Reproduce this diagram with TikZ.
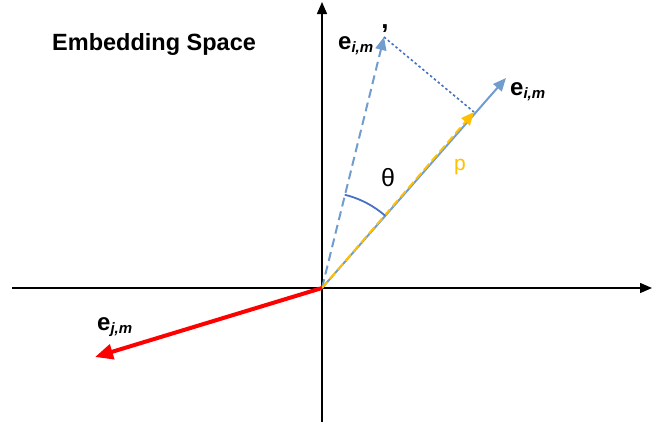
\documentclass[tikz,border=0pt]{standalone}
\usepackage{fontspec}
\setmainfont{Liberation Sans}
\usetikzlibrary{arrows.meta}
\definecolor{lblue}{RGB}{112,156,206}
\definecolor{dblue}{RGB}{68,114,196}
\definecolor{gold}{RGB}{255,192,0}
\definecolor{vred}{RGB}{255,0,0}
\tikzset{
  axis/.style={line width=1.5pt,-{Triangle[length=12pt,width=10pt]}},
  vec/.style={line width=2pt,lblue,-{Triangle[length=13pt,width=11pt]}},
  lbl/.style={font=\fontsize{24}{26}\selectfont\bfseries,inner sep=0pt}
}
\begin{document}
\begin{tikzpicture}[x=1pt,y=-1pt]
\useasboundingbox (0,0) rectangle (665,429);
\coordinate (O) at (322,288);
\coordinate (xl) at (12,288);
\coordinate (xr) at (652,288);
\coordinate (yb) at (322,422);
\coordinate (yt) at (322,2);
\coordinate (E) at (506,78);
\coordinate (Ep) at (384,37);
\coordinate (P) at (474,112);
\coordinate (R) at (95,357);
\node[font=\fontsize{23.5}{26}\selectfont\bfseries,anchor=west,inner sep=0pt] (title) at (52,44) {Embedding Space};
\draw[axis] (xl) -- (xr);
\draw[axis] (yb) -- (yt);
\draw[vec] (O) -- (E);
\draw[line width=2pt,lblue,dash pattern=on 9pt off 5pt,-{Triangle[length=13pt,width=11pt]}] (O) -- (Ep);
\draw[line width=1.6pt,dblue,dash pattern=on 2.5pt off 2.5pt] (Ep) -- (P);
\draw[line width=2pt,gold,dash pattern=on 8pt off 4pt,-{Triangle[length=13pt,width=11pt]}] (O) -- (P);
\draw[line width=1.8pt,dblue] ([shift={(-76.3:96)}]O) arc[start angle=-76.3,end angle=-48.8,radius=96];
\draw[line width=4pt,vred,-{Triangle[length=18pt,width=15pt]}] (O) -- (R);
\node[lbl,anchor=base west] (el) at (510,95) {e\textsubscript{\fontsize{15}{17}\selectfont\itshape i,m}};
\node[lbl,anchor=base west] (epl) at (338,49) {e\textsubscript{\fontsize{15}{17}\selectfont\itshape i,m}};
\node[font=\fontsize{26}{28}\selectfont\bfseries,inner sep=0pt] (prime) at (385,29) {,};
\node[lbl,anchor=base west] (rl) at (97,330) {e\textsubscript{\fontsize{15}{17}\selectfont\itshape j,m}};
\node[font=\fontsize{25}{28}\selectfont,inner sep=0pt] (th) at (388,178) {θ};
\node[font=\fontsize{21}{24}\selectfont,gold,inner sep=0pt] (pl) at (460,167) {p};
\end{tikzpicture}
\end{document}
